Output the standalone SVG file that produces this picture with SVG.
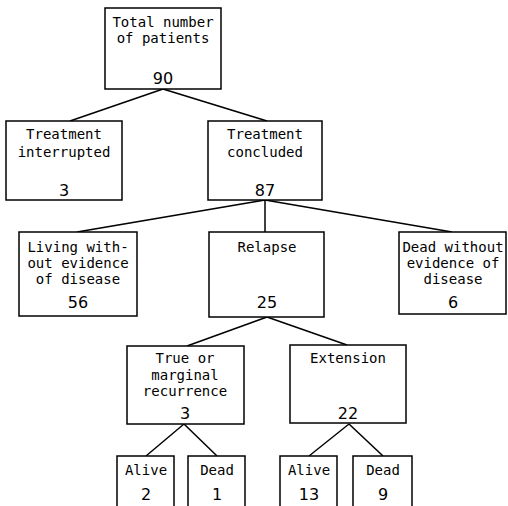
<svg xmlns="http://www.w3.org/2000/svg" width="508" height="506" viewBox="0 0 508 506">
<style>
.box{fill:#fff;stroke:#000;stroke-width:1.5}
.t{font-family:"DejaVu Sans Mono","Liberation Mono",monospace;font-size:14px;text-anchor:middle;fill:#000}
.n{font-family:"DejaVu Sans","Liberation Sans",sans-serif;font-size:16px;text-anchor:middle;fill:#000}
.c line{stroke:#000;stroke-width:1.5}
</style>
<rect width="508" height="506" fill="#fff"/>
<g class="c" id="connectors">
<line x1="163" y1="89" x2="70" y2="121"/>
<line x1="163" y1="89" x2="267" y2="121"/>
<line x1="265" y1="200" x2="77" y2="232"/>
<line x1="265" y1="200" x2="265" y2="232"/>
<line x1="265" y1="200" x2="452" y2="232"/>
<line x1="267" y1="317" x2="187" y2="346"/>
<line x1="267" y1="317" x2="347" y2="345"/>
<line x1="184" y1="424" x2="146" y2="456"/>
<line x1="184" y1="424" x2="217" y2="456"/>
<line x1="349" y1="424" x2="309" y2="456"/>
<line x1="349" y1="424" x2="383" y2="456"/>
</g>
<g id="total"><rect class="box" x="105" y="8" width="116" height="81"/>
<text class="t" x="163" y="27">Total number</text><text class="t" x="163" y="43">of patients</text><text class="n" x="163" y="84">90</text></g>
<g id="interrupted"><rect class="box" x="6" y="121" width="116" height="79"/>
<text class="t" x="64" y="139">Treatment</text><text class="t" x="64" y="157">interrupted</text><text class="n" x="64" y="196">3</text></g>
<g id="concluded"><rect class="box" x="208" y="121" width="114" height="79"/>
<text class="t" x="265" y="139">Treatment</text><text class="t" x="265" y="157">concluded</text><text class="n" x="265" y="196">87</text></g>
<g id="living"><rect class="box" x="19" y="232" width="118" height="84"/>
<text class="t" x="78" y="252">Living with-</text><text class="t" x="78" y="268">out evidence</text><text class="t" x="78" y="284">of disease</text><text class="n" x="78" y="308">56</text></g>
<g id="relapse"><rect class="box" x="209" y="232" width="115" height="85"/>
<text class="t" x="267" y="252">Relapse</text><text class="n" x="267" y="308">25</text></g>
<g id="deadwithout"><rect class="box" x="399" y="232" width="107" height="82"/>
<text class="t" x="453" y="252">Dead without</text><text class="t" x="453" y="268">evidence of</text><text class="t" x="453" y="284">disease</text><text class="n" x="453" y="308">6</text></g>
<g id="true"><rect class="box" x="127" y="346" width="117" height="78"/>
<text class="t" x="185" y="363">True or</text><text class="t" x="185" y="380">marginal</text><text class="t" x="185" y="396">recurrence</text><text class="n" x="185" y="419">3</text></g>
<g id="extension"><rect class="box" x="290" y="345" width="116" height="78"/>
<text class="t" x="348" y="363">Extension</text><text class="n" x="348" y="419">22</text></g>
<g id="alive1"><rect class="box" x="117" y="456" width="57" height="60"/>
<text class="t" x="146" y="475">Alive</text><text class="n" x="146" y="500">2</text></g>
<g id="dead1"><rect class="box" x="188" y="456" width="57" height="60"/>
<text class="t" x="217" y="475">Dead</text><text class="n" x="217" y="500">1</text></g>
<g id="alive2"><rect class="box" x="280" y="456" width="57" height="60"/>
<text class="t" x="309" y="475">Alive</text><text class="n" x="309" y="500">13</text></g>
<g id="dead2"><rect class="box" x="353" y="456" width="59" height="60"/>
<text class="t" x="383" y="475">Dead</text><text class="n" x="383" y="500">9</text></g>
</svg>
